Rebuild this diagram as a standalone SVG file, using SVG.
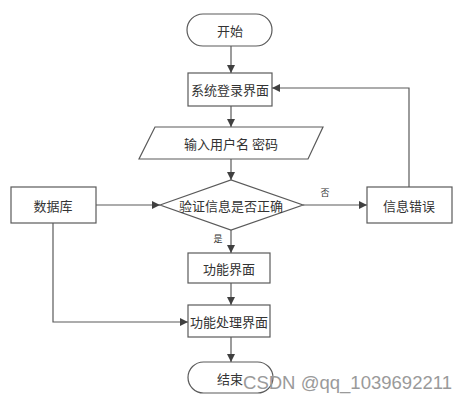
<svg xmlns="http://www.w3.org/2000/svg" width="467" height="401" viewBox="0 0 467 401">
<defs>
<marker id="ah" viewBox="0 0 10 10" refX="10" refY="5" markerWidth="8" markerHeight="8" markerUnits="userSpaceOnUse" orient="auto">
<path d="M0,0 L10,5 L0,10 z" fill="#404040"/>
</marker>
<style>
.shape{fill:#fff;stroke:#5a5a5a;stroke-width:1.2}
.t{font-family:"Noto Sans CJK SC","Noto Sans",sans-serif;font-size:13px;fill:#333;text-anchor:middle;dominant-baseline:central}
.s{font-family:"Noto Sans CJK SC","Noto Sans",sans-serif;font-size:9px;fill:#333;text-anchor:middle;dominant-baseline:central}
.c{fill:none;stroke:#5a5a5a;stroke-width:1.2}
</style>
</defs>
<rect width="467" height="401" fill="#fff"/>
<g id="connectors">
<line class="c" x1="231" y1="46" x2="231" y2="73" marker-end="url(#ah)"/>
<line class="c" x1="231" y1="106" x2="231" y2="127" marker-end="url(#ah)"/>
<line class="c" x1="231" y1="159" x2="231" y2="180" marker-end="url(#ah)"/>
<line class="c" x1="96" y1="205" x2="160" y2="205" marker-end="url(#ah)"/>
<line class="c" x1="303" y1="205" x2="367" y2="205" marker-end="url(#ah)"/>
<polyline class="c" points="409,187 409,88 272,88" marker-end="url(#ah)"/>
<line class="c" x1="231" y1="230" x2="231" y2="253" marker-end="url(#ah)"/>
<line class="c" x1="231" y1="283" x2="231" y2="305" marker-end="url(#ah)"/>
<polyline class="c" points="53,223 53,322 188,322" marker-end="url(#ah)"/>
<line class="c" x1="231" y1="337" x2="231" y2="362" marker-end="url(#ah)"/>
<text class="s" x="325" y="192">否</text>
<text class="s" x="218" y="238">是</text>
</g>
<g id="start">
<rect class="shape" x="187" y="14" width="85" height="32" rx="16"/>
<text class="t" x="230" y="30">开始</text>
</g>
<g id="login">
<rect class="shape" x="188" y="73" width="84" height="33"/>
<text class="t" x="230" y="89">系统登录界面</text>
</g>
<g id="input">
<polygon class="shape" points="155,127 323,127 308,159 139,159"/>
<text class="t" x="231" y="143">输入用户名 密码</text>
</g>
<g id="verify">
<polygon class="shape" points="160,205 231,180 303,205 231,230"/>
<text class="t" x="231" y="205">验证信息是否正确</text>
</g>
<g id="db">
<rect class="shape" x="11" y="187" width="85" height="36"/>
<text class="t" x="53" y="205">数据库</text>
</g>
<g id="error">
<rect class="shape" x="367" y="187" width="85" height="36"/>
<text class="t" x="409" y="205">信息错误</text>
</g>
<g id="func">
<rect class="shape" x="188" y="253" width="82" height="30"/>
<text class="t" x="229" y="268">功能界面</text>
</g>
<g id="proc">
<rect class="shape" x="188" y="305" width="82" height="32"/>
<text class="t" x="229" y="321">功能处理界面</text>
</g>
<g id="end">
<rect class="shape" x="188" y="362" width="85" height="31" rx="15.5"/>
<text class="t" x="230" y="378">结束</text>
</g>
<text x="243" y="389" font-family="Liberation Sans, Arial, sans-serif" font-size="18" fill="#9a9a9a" textLength="209" lengthAdjust="spacingAndGlyphs">CSDN @qq_1039692211</text>
</svg>
